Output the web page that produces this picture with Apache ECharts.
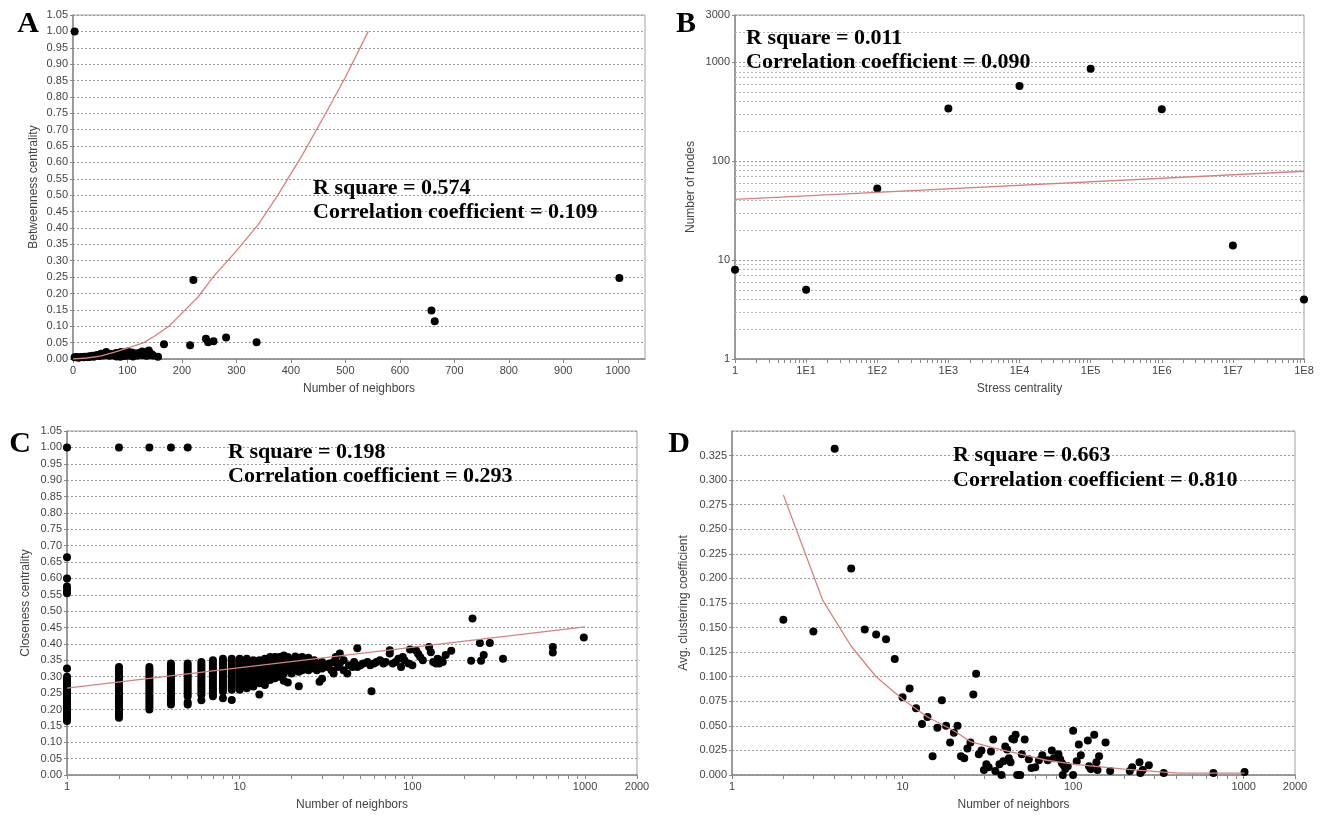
<!DOCTYPE html>
<html><head><meta charset="utf-8">
<script src="https://cdn.jsdelivr.net/npm/echarts@6/dist/echarts.min.js"></script>
<style>html,body{margin:0;padding:0;background:#fff}#c{width:1320px;height:815px}</style>
</head><body><div id="c"></div>
<script>
// ---------- Panel A : Number of neighbors vs Betweenness centrality ----------
const aPoints = [[3,1.0],[3,0.005],[6,0.006],[10,0.004],[12,0.005],[16,0.006],[20,0.005],[21,0.007],[25,0.006],[28,0.008],[30,0.006],[33,0.009],[36,0.01],[38,0.007],[42,0.011],[45,0.012],[48,0.009],[50,0.014],[52,0.016],[55,0.011],[58,0.013],[61,0.021],[62,0.017],[64,0.013],[67,0.01],[70,0.015],[73,0.013],[76,0.011],[79,0.018],[80,0.008],[82,0.014],[85,0.018],[87,0.007],[88,0.021],[90,0.012],[91,0.016],[93,0.009],[95,0.02],[97,0.014],[100,0.023],[100,0.01],[102,0.018],[104,0.016],[106,0.012],[108,0.02],[110,0.008],[112,0.013],[115,0.017],[118,0.011],[121,0.018],[124,0.014],[127,0.023],[128,0.012],[130,0.017],[133,0.013],[135,0.01],[137,0.02],[139,0.026],[141,0.018],[142,0.013],[145,0.014],[147,0.011],[156,0.007],[167,0.045],[215,0.042],[221,0.241],[244,0.062],[248,0.051],[258,0.054],[281,0.066],[337,0.051],[658,0.148],[664,0.115],[1003,0.247]];
const aFit = [[0,0],[25,0.003],[50,0.009],[75,0.02],[100,0.033],[130,0.05],[150,0.07],[176,0.1],[200,0.14],[230,0.19],[257,0.25],[300,0.33],[340,0.41],[376,0.5],[420,0.62],[464,0.75],[500,0.86],[542,1.0]];
const aText = ['R square = 0.574','Correlation coefficient = 0.109'];

// ---------- Panel B : Stress centrality vs Number of nodes ----------
const bPoints = [[1,8],[1e1,5],[1e2,53],[1e3,340],[1e4,575],[1e5,860],[1e6,335],[1e7,14],[1e8,4]];
const bFit = [[1,41],[1e8,79]];
const bText = ['R square = 0.011','Correlation coefficient = 0.090'];
const bXLabels = {1:'1',10:'1E1',100:'1E2',1000:'1E3',10000:'1E4',100000:'1E5',1000000:'1E6',10000000:'1E7',100000000:'1E8'};
const bMinorGrid = [2,3,4,5,6,7,8,9,20,30,40,50,60,70,80,90,200,300,400,500,600,700,800,900,2000];

// ---------- Panel C : Number of neighbors vs Closeness centrality ----------
// dense vertical runs of points: [neighbors, lowest, highest]
const cColumns = [[1,0.165,0.30],[2,0.175,0.33],[3,0.20,0.33],[4,0.215,0.34],[5,0.24,0.34],[6,0.245,0.345],[7,0.24,0.35],[8,0.255,0.355],[9,0.26,0.355],[10,0.26,0.355],[11,0.265,0.355],[12,0.27,0.35],[13,0.28,0.35],[14,0.285,0.355],[15,0.29,0.36],[16,0.295,0.36]];
const cPoints = [[1,0.325],[1,0.555],[1,0.565],[1,0.575],[1,0.60],[1,0.665],[1,1.0],[2,1.0],[3,1.0],[4,1.0],[5,1.0],[5,0.215],[5,0.222],[6,0.228],[8,0.234],[9,0.229],[13,0.246],[12,0.28],[14,0.275],
[17,0.30],[17,0.32],[17,0.34],[17,0.36],[18,0.288],[18,0.31],[18,0.33],[18,0.35],[18,0.365],[19,0.282],[19,0.32],[19,0.34],[19,0.36],[20,0.31],[20,0.33],[20,0.35],[21,0.32],[21,0.34],[21,0.362],[22,0.271],[22,0.315],[22,0.335],[22,0.355],[23,0.32],[23,0.34],[23,0.36],[24,0.33],[24,0.35],[25,0.32],[25,0.34],[25,0.358],[26,0.325],[26,0.345],[27,0.33],[27,0.35],[28,0.32],[28,0.34],[29,0.285],[29,0.33],[30,0.294],[30,0.325],[30,0.345],[32,0.33],[33,0.34],[34,0.32],[35,0.31],[35,0.345],[36,0.36],[37,0.33],[38,0.371],[38,0.34],[40,0.32],[40,0.35],[42,0.31],[43,0.335],[45,0.33],[46,0.345],[48,0.387],[48,0.33],[50,0.335],[52,0.34],[55,0.345],[57,0.335],[58,0.256],[60,0.34],[62,0.345],[65,0.35],[68,0.34],[70,0.345],[74,0.381],[74,0.371],[77,0.34],[80,0.345],[83,0.355],[86,0.33],[88,0.36],[90,0.35],[95,0.34],[97,0.383],[100,0.335],[105,0.38],[108,0.37],[111,0.36],[115,0.35],[125,0.391],[128,0.375],[132,0.345],[137,0.34],[140,0.355],[143,0.34],[145,0.35],[150,0.345],[156,0.366],[168,0.379],[219,0.349],[223,0.478],[246,0.403],[250,0.349],[259,0.366],[281,0.403],[335,0.355],[651,0.391],[651,0.374],[984,0.42]];
const cFit = [[1,0.265],[1000,0.452]];
const cText = ['R square = 0.198','Correlation coefficient = 0.293'];

// ---------- Panel D : Number of neighbors vs Avg. clustering coefficient ----------
const dPoints = [[2,0.158],[3,0.146],[4,0.332],[5,0.21],[6,0.148],[7,0.143],[8,0.138],[9,0.118],[10,0.079],[11,0.088],[12,0.068],[13,0.052],[14,0.059],[15,0.019],[16,0.048],[17,0.076],[18,0.05],[19,0.033],[20,0.043],[21,0.05],[22,0.019],[23,0.017],[24,0.027],[25,0.033],[26,0.082],[27,0.103],[28,0.021],[29,0.025],[30,0.005],[31,0.011],[32,0.008],[33,0.024],[34,0.036],[35,0.004],[37,0.011],[38,0.0],[39,0.014],[40,0.029],[41,0.026],[42,0.017],[43,0.013],[44,0.037],[45,0.036],[46,0.041],[47,0.0],[49,0.0],[50,0.021],[52,0.036],[55,0.016],[57,0.007],[60,0.008],[63,0.015],[66,0.02],[71,0.015],[75,0.025],[77,0.017],[82,0.021],[84,0.016],[86,0.012],[88,0.01],[90,0.006],[87,0.0],[93,0.009],[100,0.045],[100,0.0],[105,0.014],[108,0.031],[111,0.02],[122,0.035],[124,0.009],[127,0.006],[133,0.041],[137,0.013],[139,0.005],[142,0.019],[155,0.033],[165,0.004],[215,0.004],[222,0.008],[245,0.013],[248,0.002],[256,0.005],[278,0.01],[340,0.002],[665,0.002],[1012,0.003]];
const dFit = [[2,0.285],[3.4,0.178],[5,0.131],[7,0.1],[10,0.077],[14,0.059],[20,0.045],[25,0.034],[35,0.027],[50,0.021],[70,0.015],[100,0.011],[130,0.009],[200,0.006],[340,0.003],[420,0.002],[665,0.002],[1012,0.002]];
const dText = ['R square = 0.663','Correlation coefficient = 0.810'];

const panelLetters = ['A','B','C','D'];
const xNames = ['Number of neighbors','Stress centrality','Number of neighbors','Number of neighbors'];
const yNames = ['Betweenness centrality','Number of nodes','Closeness centrality','Avg. clustering coefficient'];

// ---------- layout ----------
const grids = [
  {left:73, top:15, width:572, height:344},
  {left:735, top:15, width:569, height:344},
  {left:67, top:431, width:570, height:344},
  {left:732, top:431, width:563, height:344}
];
const logTicks = (maxDec, extra) => { const t=[]; for(let d=0; d<maxDec; d++){ for(let m=1;m<10;m++) t.push(m*Math.pow(10,d)); } t.push(Math.pow(10,maxDec)); if(extra) t.push(extra); return t; };

const labelFont = {fontFamily:'Liberation Sans', fontSize:11, color:'#444'};
const nameFont = {fontFamily:'Liberation Sans', fontSize:12, color:'#444'};
const axisLineStyle = {show:true, lineStyle:{color:'#8a8a8a', width:1.5}};
const dotted = {show:true, lineStyle:{type:[2,2], color:'#9a9a9a', width:1}};

const xAxis = [
  {gridIndex:0, type:'value', min:0, max:1050, interval:100, name:xNames[0], nameLocation:'middle', nameGap:24, nameTextStyle:nameFont,
   axisLine:axisLineStyle, axisTick:{show:true, length:4, lineStyle:{color:'#888'}}, axisLabel:Object.assign({margin:6, showMaxLabel:false, formatter:v=>String(Math.round(v))}, labelFont), splitLine:{show:false}},
  {gridIndex:1, type:'log', logBase:10, min:1, max:1e8, name:xNames[1], nameLocation:'middle', nameGap:24, nameTextStyle:nameFont,
   axisLine:axisLineStyle, axisTick:{show:true, length:4, lineStyle:{color:'#888'}, customValues:logTicks(8)},
   axisLabel:Object.assign({margin:6, formatter:v=>bXLabels[Math.round(v)] || ''}, labelFont), splitLine:{show:false}},
  {gridIndex:2, type:'log', logBase:10, min:1, max:2000, name:xNames[2], nameLocation:'middle', nameGap:24, nameTextStyle:nameFont,
   axisLine:axisLineStyle, axisTick:{show:true, length:4, lineStyle:{color:'#888'}, customValues:logTicks(3,2000)},
   axisLabel:Object.assign({margin:6, formatter:v=>String(Math.round(v))}, labelFont), splitLine:{show:false}},
  {gridIndex:3, type:'log', logBase:10, min:1, max:2000, name:xNames[3], nameLocation:'middle', nameGap:24, nameTextStyle:nameFont,
   axisLine:axisLineStyle, axisTick:{show:true, length:4, lineStyle:{color:'#888'}, customValues:logTicks(3,2000)},
   axisLabel:Object.assign({margin:6, formatter:v=>String(Math.round(v))}, labelFont), splitLine:{show:false}}
];
const yAxis = [
  {gridIndex:0, type:'value', min:0, max:1.05, interval:0.05, name:yNames[0], nameLocation:'middle', nameGap:33, nameTextStyle:nameFont,
   axisLine:axisLineStyle, axisTick:{show:true, length:3, lineStyle:{color:'#888'}}, axisLabel:Object.assign({margin:5, formatter:v=>v.toFixed(2)}, labelFont), splitLine:dotted},
  {gridIndex:1, type:'log', logBase:10, min:1, max:3000, name:yNames[1], nameLocation:'middle', nameGap:38, nameTextStyle:nameFont,
   axisLine:axisLineStyle, axisTick:{show:true, length:3, lineStyle:{color:'#888'}}, axisLabel:Object.assign({margin:5, formatter:v=>String(Math.round(v))}, labelFont), splitLine:dotted},
  {gridIndex:2, type:'value', min:0, max:1.05, interval:0.05, name:yNames[2], nameLocation:'middle', nameGap:35, nameTextStyle:nameFont,
   axisLine:axisLineStyle, axisTick:{show:true, length:3, lineStyle:{color:'#888'}}, axisLabel:Object.assign({margin:5, formatter:v=>v.toFixed(2)}, labelFont), splitLine:dotted},
  {gridIndex:3, type:'value', min:0, max:0.35, interval:0.025, name:yNames[3], nameLocation:'middle', nameGap:42, nameTextStyle:nameFont,
   axisLine:axisLineStyle, axisTick:{show:true, length:3, lineStyle:{color:'#888'}}, axisLabel:Object.assign({margin:5, showMaxLabel:false, formatter:v=>v.toFixed(3)}, labelFont), splitLine:dotted}
];

const fitColor = '#d9807e';
const scatter = (i, data, size) => ({type:'scatter', xAxisIndex:i, yAxisIndex:i, data, symbolSize:size, itemStyle:{color:'#000', opacity:1}, silent:true, z:3});
const fit = (i, data) => ({type:'line', xAxisIndex:i, yAxisIndex:i, data, showSymbol:false, symbol:'none', smooth:false, lineStyle:{color:fitColor, width:1.3}, silent:true, z:5});

// minor log gridlines of panel B, drawn beneath the points
const bGridHolder = {type:'scatter', xAxisIndex:1, yAxisIndex:1, data:[], silent:true, z:1,
  markLine:{silent:true, z:1, symbol:['none','none'], label:{show:false}, lineStyle:{type:[2,2], color:'#b5b5b5', width:1}, data: bMinorGrid.map(v=>({yAxis:v})), animation:false}};

const series = [
  scatter(0, aPoints, 8), fit(0, aFit),
  bGridHolder, scatter(1, bPoints, 8), fit(1, bFit),
  {type:'custom', xAxisIndex:2, yAxisIndex:2, data:cColumns, encode:{x:0, y:[1,2]}, silent:true, z:3,
   renderItem:(params, api)=>{ const p1=api.coord([api.value(0), api.value(1)]); const p2=api.coord([api.value(0), api.value(2)]);
     return {type:'line', shape:{x1:p1[0], y1:p1[1], x2:p2[0], y2:p2[1]}, style:{stroke:'#000', lineWidth:8, lineCap:'round'}}; }},
  scatter(2, cPoints, 8), fit(2, cFit),
  scatter(3, dPoints, 8), fit(3, dFit)
];

const annoFont = 'bold 22px "Liberation Serif", "Times New Roman", serif';
const letterFont = 'bold 30px "Liberation Serif", "Times New Roman", serif';
const txt = (x, y, text, font, align) => ({type:'text', x, y, silent:true, z:10, style:{text, font, fill:'#000', textAlign:align||'left', textVerticalAlign:'middle'}});
const graphic = [
  txt(28, 24, panelLetters[0], letterFont, 'center'),
  txt(686, 24, panelLetters[1], letterFont, 'center'),
  txt(20, 444, panelLetters[2], letterFont, 'center'),
  txt(679, 444, panelLetters[3], letterFont, 'center'),
  txt(313, 188, aText[0], annoFont), txt(313, 212, aText[1], annoFont),
  txt(746, 38, bText[0], annoFont), txt(746, 62, bText[1], annoFont),
  txt(228, 452, cText[0], annoFont), txt(228, 476, cText[1], annoFont),
  txt(953, 455, dText[0], annoFont), txt(953, 480, dText[1], annoFont)
];

const chart = echarts.init(document.getElementById('c'), null, {renderer:'canvas'});
chart.setOption({
  animation:false,
  backgroundColor:'#fff',
  grid: grids.map(g=>Object.assign({show:true, borderColor:'#a0a0a0', borderWidth:1, backgroundColor:'#fff', containLabel:false}, g)),
  xAxis, yAxis, series, graphic
});
</script></body></html>
